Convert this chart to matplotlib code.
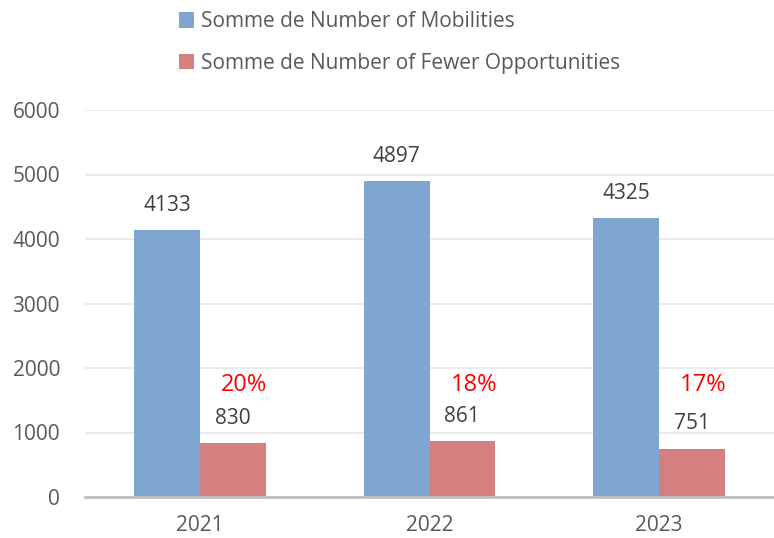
import matplotlib.pyplot as plt
import numpy as np

# data
years = ['2021', '2022', '2023']
mobilities = [4133, 4897, 4325]
fewer_opp = [830, 861, 751]
pct_labels = ['20%', '18%', '17%']

plt.rcParams['font.family'] = ['Open Sans', 'DejaVu Sans']
grey = '#595959'

fig = plt.figure(figsize=(7.74, 5.38), dpi=100)
ax = fig.add_axes([85 / 774, (538 - 497) / 538, (774 - 85) / 774, (497 - 110) / 538])

x = np.arange(len(years))
w = 0.286
b1 = ax.bar(x - w / 2, mobilities, w, color='#7EA6D0', label='Somme de Number of Mobilities')
b2 = ax.bar(x + w / 2, fewer_opp, w, color='#D48080', label='Somme de Number of Fewer Opportunities')

for i in range(len(years)):
    ax.annotate(str(mobilities[i]), (x[i] - w / 2, mobilities[i]), xytext=(0, 18),
                textcoords='offset points', ha='center', va='center', fontsize=15, color='#404040')
    ax.annotate(str(fewer_opp[i]), (x[i] + w / 2, fewer_opp[i]), xytext=(0, 18),
                textcoords='offset points', ha='center', va='center', fontsize=15, color='#404040')
    ax.text(x[i] + w / 2 + 0.05, 1740, pct_labels[i], ha='center', va='center',
            fontsize=17, color='red')

ax.set_ylim(0, 6000)
ax.set_xlim(-0.5, 2.5)
ax.set_yticks(range(0, 6001, 1000))
ax.set_xticks(x)
ax.set_xticklabels(years)
ax.tick_params(axis='both', length=0, labelsize=15, colors=grey)
ax.tick_params(axis='y', pad=18)
ax.tick_params(axis='x', pad=13)
ax.yaxis.grid(True, color='#E8E8E8', linewidth=1.2)
ax.set_axisbelow(True)
for s in ['top', 'right', 'left']:
    ax.spines[s].set_visible(False)
ax.spines['bottom'].set_color('#BFBFBF')
ax.spines['bottom'].set_linewidth(2)

fig.legend(handles=[b1, b2], loc='upper left', bbox_to_anchor=(160 / 774, 1.014), frameon=False,
           fontsize=15, labelcolor=grey, handlelength=0.75, handleheight=0.75, handletextpad=0.3,
           labelspacing=1.0)

fig.savefig('out.png', dpi=100)
